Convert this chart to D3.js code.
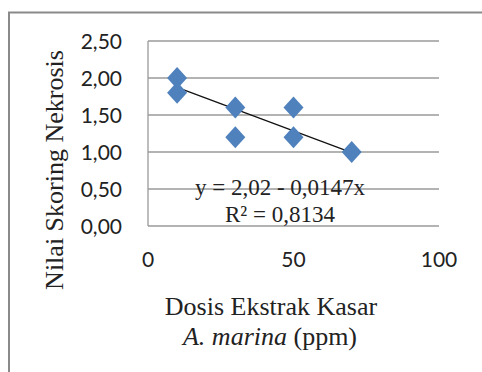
<!DOCTYPE html>
<html><head><meta charset="utf-8">
<script src="https://cdn.jsdelivr.net/npm/d3@7"></script>
<style>body{margin:0;background:#fff}svg{display:block}</style>
</head><body>
<script>
const doses = [10, 10, 30, 30, 50, 50, 70];
const scores = [2.0, 1.8, 1.6, 1.2, 1.6, 1.2, 1.0];
const yTicks = [0, 0.5, 1.0, 1.5, 2.0, 2.5];
const xTicks = [0, 50, 100];
const trendIntercept = 2.02, trendSlope = -0.0147;
const trendRange = [10, 70];
const eqText = "y = 2,02 - 0,0147x";
const r2Text = "R² = 0,8134";
const yTitle = "Nilai Skoring Nekrosis";

const W = 482, H = 372;
const svg = d3.select("body").append("svg").attr("width", W).attr("height", H);
// outer frame
svg.append("path").attr("d", `M9,${H}V12.5H${W}`).attr("fill","none").attr("stroke","#8a8a8a").attr("stroke-width",2);

const x = d3.scaleLinear().domain([0,100]).range([148,439]);
const y = d3.scaleLinear().domain([0,2.5]).range([226,41]);
const fmt = d => d.toFixed(2).replace(".", ",");

// gridlines
svg.append("g").selectAll("line").data(yTicks).join("line")
  .attr("x1", x(0)).attr("x2", x(100)).attr("y1", d=>y(d)).attr("y2", d=>y(d))
  .attr("stroke", "#9a9a9a").attr("stroke-width", 1.3);
svg.append("line").attr("x1", x(0)).attr("x2", x(0)).attr("y1", y(2.5)).attr("y2", y(0))
  .attr("stroke", "#9a9a9a").attr("stroke-width", 1.3);

// y tick labels
svg.append("g").selectAll("text").data(yTicks).join("text")
  .attr("x", 122).attr("y", d=>y(d)).attr("dy","0.36em").attr("text-anchor","end")
  .attr("font-family","Lato, 'Open Sans', sans-serif").attr("font-size",21).attr("fill","#222")
  .text(fmt);
// x tick labels
svg.append("g").selectAll("text").data(xTicks).join("text")
  .attr("x", d=>x(d)).attr("y", 267).attr("text-anchor","middle")
  .attr("font-family","Lato, 'Open Sans', sans-serif").attr("font-size",21).attr("fill","#222")
  .text(d=>d);

// trend line
svg.append("line")
  .attr("x1", x(trendRange[0])).attr("y1", y(trendIntercept + trendSlope*trendRange[0]))
  .attr("x2", x(trendRange[1])).attr("y2", y(trendIntercept + trendSlope*trendRange[1]))
  .attr("stroke","#111").attr("stroke-width",1.2);

// points
const pts = doses.map((d,i)=>({x:d, y:scores[i]}));
svg.append("g").selectAll("path").data(pts).join("path")
  .attr("transform", d=>`translate(${x(d.x)},${y(d.y)})`)
  .attr("d", "M0,-11L10,0L0,11L-10,0Z")
  .attr("fill","#4f81bd");

// equation
const serif = "'Liberation Serif', 'Times New Roman', serif";
svg.append("text").attr("x",280).attr("y",195).attr("text-anchor","middle")
  .attr("font-family",serif).attr("font-size",23).attr("fill","#222").text(eqText);
svg.append("text").attr("x",280).attr("y",222).attr("text-anchor","middle")
  .attr("font-family",serif).attr("font-size",23).attr("fill","#222").text(r2Text);

// axis titles
svg.append("text").attr("x",271).attr("y",315).attr("text-anchor","middle")
  .attr("font-family",serif).attr("font-size",26).attr("fill","#222").text("Dosis Ekstrak Kasar");
const t2 = svg.append("text").attr("x",270).attr("y",345).attr("text-anchor","middle")
  .attr("font-family",serif).attr("font-size",26).attr("fill","#222");
t2.append("tspan").attr("font-style","italic").text("A. marina");
t2.append("tspan").text(" (ppm)");
svg.append("text").attr("transform","translate(63,170) rotate(-90)").attr("text-anchor","middle")
  .attr("font-family",serif).attr("font-size",26).attr("fill","#222").text(yTitle);
</script>
</body></html>
